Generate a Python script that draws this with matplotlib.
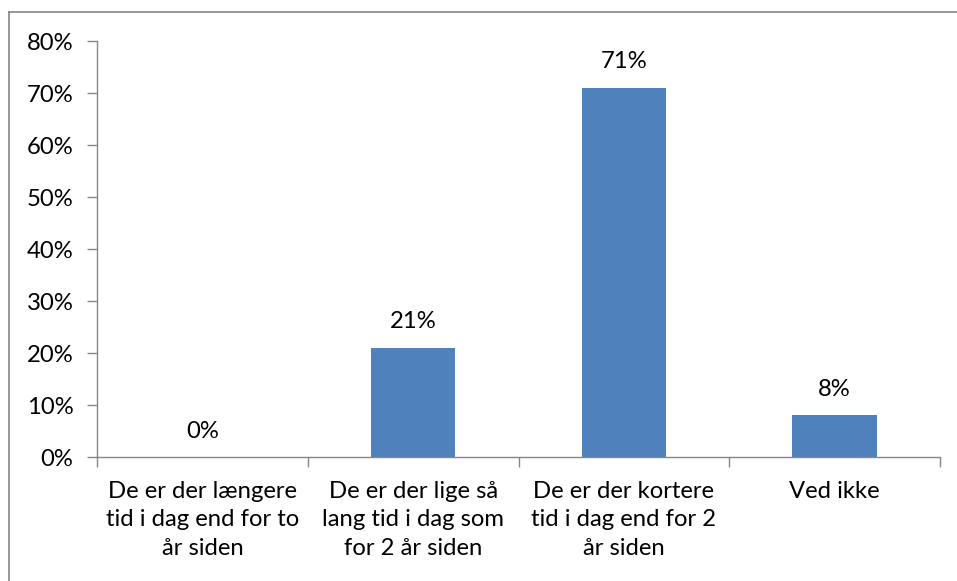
import matplotlib
matplotlib.use("Agg")
import matplotlib.pyplot as plt
from matplotlib.lines import Line2D
from matplotlib.ticker import MultipleLocator, FuncFormatter

categories = [
    "De er der længere\ntid i dag end for to\når siden",
    "De er der lige så\nlang tid i dag som\nfor 2 år siden",
    "De er der kortere\ntid i dag end for 2\når siden",
    "Ved ikke",
]
values = [0, 21, 71, 8]
value_labels = ["0%", "21%", "71%", "8%"]

plt.rcParams['font.family'] = ['Lato', 'DejaVu Sans']
FS = 17.2
AXC = '#868686'

fig = plt.figure(figsize=(9.57, 5.81), dpi=100)
ax = fig.add_axes([97/957, 1-457/581, (940-97)/957, (457-41)/581])

x = list(range(len(categories)))
ax.bar(x, values, width=0.4, color='#4F81BD', zorder=2)

for xi, v, lab in zip(x, values, value_labels):
    ax.annotate(lab, (xi, v), xytext=(0, 18.7), textcoords='offset points',
                ha='center', va='center', fontsize=FS, color='black')

ax.set_xlim(-0.5, len(categories) - 0.5)
ax.set_ylim(0, 80)
ax.yaxis.set_major_locator(MultipleLocator(10))
ax.yaxis.set_major_formatter(FuncFormatter(lambda v, p: f"{int(round(v))}%"))

ax.set_xticks([i - 0.5 for i in range(len(categories) + 1)], minor=False)
ax.set_xticklabels([])
ax.set_xticks(x, minor=True)
ax.set_xticklabels(categories, minor=True, fontsize=FS, linespacing=1.42)
ax.tick_params(axis='x', which='minor', length=0, pad=17.5)
ax.tick_params(axis='x', which='major', length=7.5, width=1.0, color=AXC, direction='out')
ax.tick_params(axis='y', length=7.5, width=1.0, color=AXC, direction='out', pad=9.5,
               labelsize=FS)

for s in ['top', 'right']:
    ax.spines[s].set_visible(False)
for s in ['left', 'bottom']:
    ax.spines[s].set_color(AXC)
    ax.spines[s].set_linewidth(1.0)

# outer chart border (left and top visible)
W, H = 957, 581
fig.add_artist(Line2D([9/W, 9/W], [1-12/H, -0.1], color=AXC, lw=1.2, transform=fig.transFigure))
fig.add_artist(Line2D([9/W, 1.1], [1-12/H, 1-12/H], color=AXC, lw=1.2, transform=fig.transFigure))

fig.savefig("out.png", dpi=100)
